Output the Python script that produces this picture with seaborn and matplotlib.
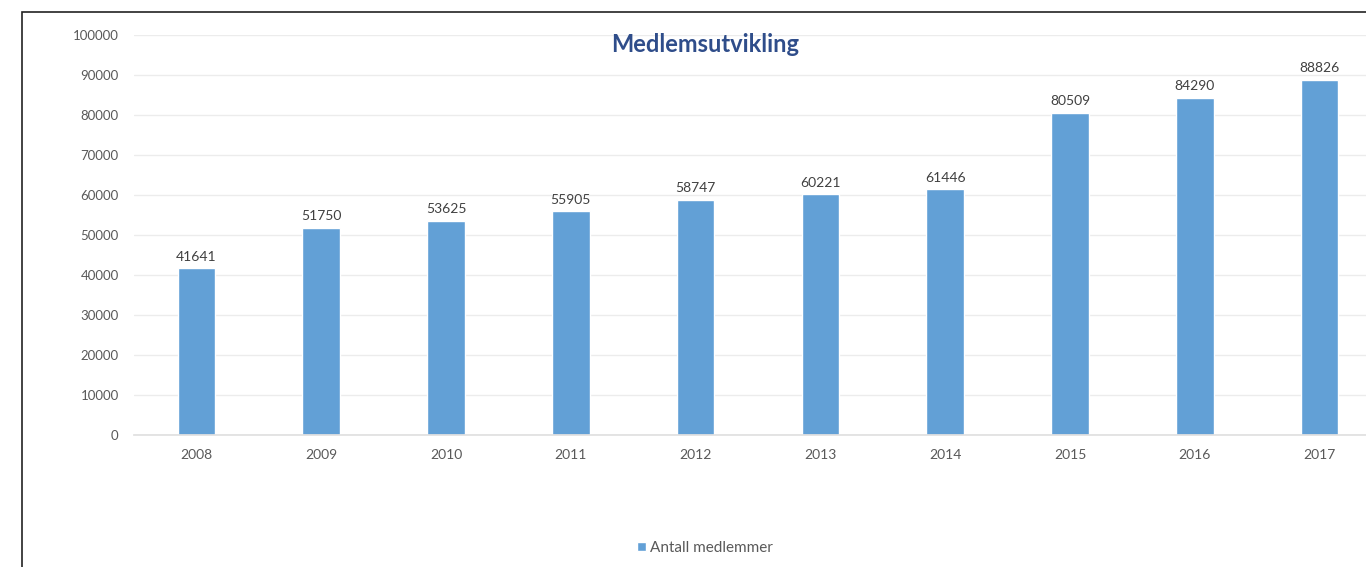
import matplotlib
matplotlib.use("Agg")
import matplotlib.pyplot as plt
import seaborn as sns
import pandas as pd
from matplotlib.patches import Rectangle

years = ["2008", "2009", "2010", "2011", "2012", "2013", "2014", "2015", "2016", "2017"]
members = [41641, 51750, 53625, 55905, 58747, 60221, 61446, 80509, 84290, 88826]
series_name = "Antall medlemmer"
title = "Medlemsutvikling"
yticks = [0, 10000, 20000, 30000, 40000, 50000, 60000, 70000, 80000, 90000, 100000]

sns.set_theme(style="white")
plt.rcParams['font.family'] = ['Lato', 'DejaVu Sans']

df = pd.DataFrame({"year": years, "value": members, "series": series_name})

fig = plt.figure(figsize=(13.66, 5.67), dpi=100)
ax = fig.add_axes([134/1366, 132/567, 1248/1366, 400/567])

sns.barplot(data=df, x="year", y="value", hue="series", palette=["#62A0D6"],
            width=0.3, ax=ax, saturation=1, legend=True)

ax.set_ylim(0, 100000)
ax.set_yticks(yticks)
ax.set_yticklabels([str(t) for t in yticks])
ax.grid(axis="y", color="#ececec", linewidth=1)
ax.set_axisbelow(True)
for s in ["top", "right", "left"]:
    ax.spines[s].set_visible(False)
ax.spines["bottom"].set_color("#e0e0e0")
ax.set_xlabel("")
ax.set_ylabel("")
ax.tick_params(axis="y", colors="#595959", labelsize=9.5, length=0, pad=11)
ax.tick_params(axis="x", colors="#595959", labelsize=10, length=0, pad=10)
for lbl in ax.get_xticklabels() + ax.get_yticklabels():
    lbl.set_color("#595959")

for c in ax.containers:
    ax.bar_label(c, labels=[str(v) for v in members], padding=4, fontsize=10, color="#404040")

ax.set_title("")
fig.text(705/1366, 1 - 45/567, title, ha="center", va="center", fontsize=17,
         fontweight="bold", color="#2F4D8A")

leg = ax.legend(loc="center", bbox_to_anchor=(705/1366, 1 - 548/567),
                bbox_transform=fig.transFigure, frameon=False, fontsize=11,
                handlelength=0.6, handleheight=0.6, handletextpad=0.3)
for t in leg.get_texts():
    t.set_color("#595959")

fig.patches.append(Rectangle((22/1366, -0.1), 1.5, (567 - 12)/567 + 0.1,
                             transform=fig.transFigure, fill=False,
                             edgecolor="#222222", linewidth=1.2))

fig.savefig("out.png", dpi=100)
